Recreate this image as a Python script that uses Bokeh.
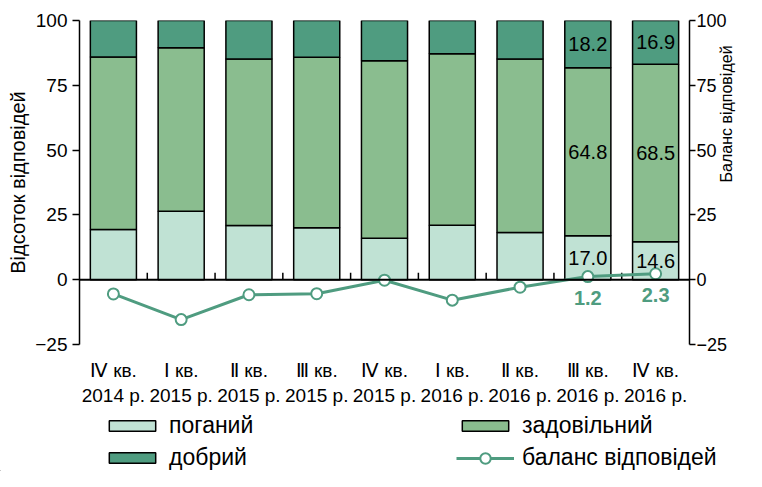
import numpy as np
from bokeh.plotting import figure
from bokeh.layouts import column
from bokeh.models import (ColumnDataSource, FactorRange, Range1d, LinearAxis, Span,
                          Legend, LegendItem, FixedTicker)
from bokeh.transform import dodge
from bokeh.core.properties import value
from bokeh.embed import file_html
from bokeh.resources import INLINE

# ---------------- data ----------------
quarters = ["Ⅳ кв.", "Ⅰ кв.", "Ⅱ кв.", "Ⅲ кв.", "Ⅳ кв.", "Ⅰ кв.", "Ⅱ кв.", "Ⅲ кв.", "Ⅳ кв."]
years = ["2014 р.", "2015 р.", "2015 р.", "2015 р.", "2015 р.", "2016 р.", "2016 р.", "2016 р.", "2016 р."]
poor = [19.4, 26.4, 20.9, 20.0, 16.0, 21.0, 18.2, 17.0, 14.6]
good = [14.1, 10.5, 14.9, 14.2, 15.5, 12.8, 14.9, 18.2, 16.9]
satisfactory = [round(100 - p - g, 1) for p, g in zip(poor, good)]
balance = [-5.5, -15.4, -5.8, -5.4, -0.2, -7.9, -2.9, 1.2, 2.3]
y_ticks = [-25, 0, 25, 50, 75, 100]
labelled = [7, 8]  # bars / points carrying data labels

series_names = ["поганий", "задовільний", "добрий"]
line_name = "баланс відповідей"
left_title = "Відсоток відповідей"
right_title = "Баланс відповідей"

# ---------------- styles ----------------
C_POOR = "#c0e2d4"
C_SAT = "#8abd8f"
C_GOOD = "#4f9c80"
C_LINE = "#4f9c80"
FONT = "Liberation Sans"

cats = [f"{q}\n{y}" for q, y in zip(quarters, years)]
src = ColumnDataSource(dict(cat=cats, poor=poor, sat=satisfactory, good=good, bal=balance))

W, H = 746, 471
FL, FT, FW, FH = 79, 20, 610, 324
HM = 412                       # height of the chart part
p = figure(x_range=FactorRange(*cats), y_range=Range1d(-25, 100),
           width=W, height=HM, output_backend="svg", toolbar_location=None,
           min_border_left=FL, min_border_right=W - FL - FW, min_border_top=FT,
           min_border_bottom=HM - FT - FH)
p.outline_line_color = None
p.xgrid.grid_line_color = None
p.ygrid.grid_line_color = None

bars = p.vbar_stack(["poor", "sat", "good"], x="cat", width=0.68, source=src,
                    fill_color=[C_POOR, C_SAT, C_GOOD], line_color="black", line_width=1.5)

# zero line and category separators
p.add_layout(Span(location=0, dimension="width", line_color="black", line_width=2))
tick_len = 7 * 125 / FH
n = len(cats)
sep = ColumnDataSource(dict(cat=cats[:-1], y0=[0] * (n - 1), y1=[tick_len] * (n - 1)))
p.segment(x0=dodge("cat", 0.5, range=p.x_range), x1=dodge("cat", 0.5, range=p.x_range),
          y0="y0", y1="y1", source=sep, line_color="black", line_width=1.5)

line_r = p.line(x="cat", y="bal", source=src, line_color=C_LINE, line_width=3)
pts_r = p.scatter(x="cat", y="bal", source=src, size=11, fill_color="white",
                  line_color=C_LINE, line_width=2)

# data labels in bars
lx, ly, lt = [], [], []
for i in labelled:
    base = 0
    for v in (poor[i], satisfactory[i], good[i]):
        lx.append(cats[i]); ly.append(base + v / 2); lt.append(f"{v:.1f}")
        base += v
p.text(x="x", y="y", text="t", source=ColumnDataSource(dict(x=lx, y=ly, t=lt)),
       text_align="center", text_baseline="middle", text_font_size="20px",
       text_font=value(FONT), text_color="black")

# balance labels
bsrc = ColumnDataSource(dict(x=[cats[i] for i in labelled], y=[balance[i] for i in labelled],
                             t=[f"{balance[i]:.1f}" for i in labelled]))
p.text(x="x", y="y", text="t", source=bsrc, y_offset=21, text_align="center",
       text_baseline="middle", text_font_size="20px", text_font_style="bold",
       text_font=value(FONT), text_color=C_LINE)

# axes
def style_y(ax, standoff, size):
    ax.ticker = FixedTicker(ticks=y_ticks)
    ax.major_tick_out = 7
    ax.major_tick_in = 0
    ax.minor_tick_line_color = None
    ax.axis_line_width = 1.5
    ax.major_tick_line_width = 1.5
    ax.axis_line_color = "black"
    ax.major_tick_line_color = "black"
    ax.major_label_text_font_size = size
    ax.major_label_text_font = FONT
    ax.major_label_text_color = "black"
    ax.major_label_standoff = standoff
    ax.axis_label_text_font_style = "normal"
    ax.axis_label_text_font = FONT
    ax.axis_label_text_color = "black"

style_y(p.yaxis[0], 5, "19px")
p.yaxis[0].axis_label = left_title
p.yaxis[0].axis_label_text_font_size = "20px"
p.yaxis[0].axis_label_standoff = 3

ax_r = LinearAxis()
style_y(ax_r, 1, "18px")
ax_r.major_tick_out = 6
ax_r.axis_label = right_title
ax_r.axis_label_text_font_size = "16px"
ax_r.axis_label_standoff = -4
if "axis_label_orientation" in ax_r.properties():
    ax_r.axis_label_orientation = np.pi / 2
p.add_layout(ax_r, "right")

xa = p.xaxis[0]
xa.axis_line_color = None
xa.major_tick_line_color = None
xa.major_tick_out = 0
xa.major_label_text_font_size = "19px"
xa.major_label_text_font = FONT
xa.major_label_text_color = "black"
xa.major_label_standoff = 15

# ---------------- legend strip ----------------
HL = H - HM
q = figure(width=W, height=HL, x_range=(0, 1), y_range=(0, 1), output_backend="svg",
           toolbar_location=None, x_axis_type=None, y_axis_type=None, min_border=0)
q.outline_line_color = None
q.xgrid.grid_line_color = None
q.ygrid.grid_line_color = None
x0 = FL
if "frame_align" in q.properties():
    q.frame_align = False
    x0 = 0
# off-screen proxy glyphs that only carry the legend styles
proxy = [q.vbar(x=[-9], top=[-9], width=0.5, fill_color=c, line_color="black", line_width=1.5)
         for c in (C_POOR, C_SAT, C_GOOD)]
proxy_line = q.line(x=[-9, -8], y=[-9, -9], line_color=C_LINE, line_width=3)
proxy_pts = q.scatter(x=[-9], y=[-9], size=11, fill_color="white", line_color=C_LINE, line_width=2)

def make_legend(label, rends, lx, vy, gh=13):
    lg = Legend(items=[LegendItem(label=label, renderers=rends)], location=(lx - x0, vy),
                glyph_width=58, glyph_height=gh, label_standoff=8,
                spacing=0, padding=0, margin=0, border_line_color=None,
                background_fill_alpha=0, label_text_font_size="23px",
                label_text_font=FONT, label_text_color="black", label_height=26)
    q.add_layout(lg)

COL1, COL2 = 103, 456
make_legend(series_names[0], [proxy[0]], COL1, 32)
make_legend(series_names[1], [proxy[1]], COL2, 32)
make_legend(series_names[2], [proxy[2]], COL1, 0)
make_legend(line_name, [proxy_line, proxy_pts], COL2, 0, gh=26)

open("out.html", "w").write(file_html(column(p, q), INLINE))
